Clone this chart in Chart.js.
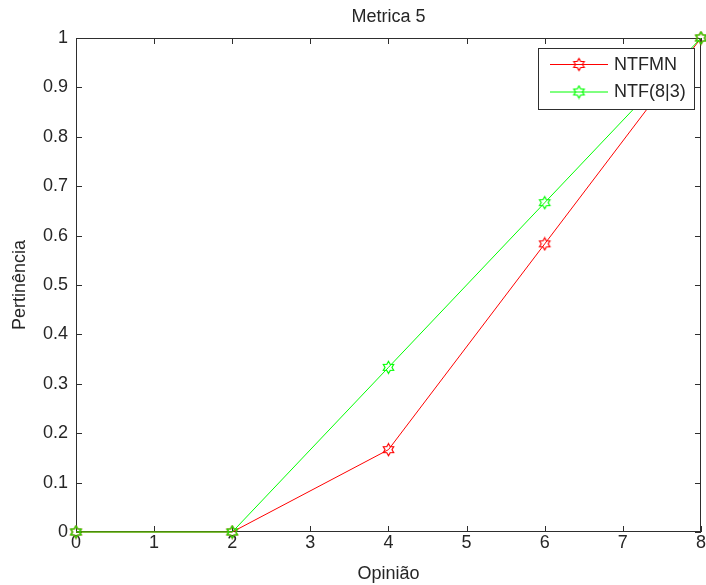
<!DOCTYPE html>
<html>
<head>
<meta charset="utf-8">
<script src="https://cdn.jsdelivr.net/npm/chart.js"></script>
<style>
  html, body { margin: 0; padding: 0; background: #fff; }
</style>
</head>
<body>
<canvas id="myChart" width="706" height="585"></canvas>
<script>
const opinion = [0, 2, 4, 6, 8];
const ntfmn = [0, 0, 0.1667, 0.5833, 1];
const ntf83 = [0, 0, 0.3333, 0.6667, 1];
const xTicks = [0, 1, 2, 3, 4, 5, 6, 7, 8];
const xTickLabels = ['0', '1', '2', '3', '4', '5', '6', '7', '8'];
const yTicks = [0, 0.1, 0.2, 0.3, 0.4, 0.5, 0.6, 0.7, 0.8, 0.9, 1];
const yTickLabels = ['0', '0.1', '0.2', '0.3', '0.4', '0.5', '0.6', '0.7', '0.8', '0.9', '1'];

const axisColor = '#2e2e2e';
const textColor = '#262626';
const font = { family: 'Liberation Sans, Arial, sans-serif', size: 18 };

// hexagram marker like matlab's 'h'
const makeStar = color => {
  const c = document.createElement('canvas');
  c.width = 15;
  c.height = 15;
  const g = c.getContext('2d');
  g.strokeStyle = color;
  g.lineWidth = 1.2;
  const r = 6, cx = 7.5, cy = 7.5;
  g.beginPath();
  for (let i = 0; i < 12; i++) {
    const a = -Math.PI / 2 + i * Math.PI / 6;
    const rr = i % 2 ? r / Math.sqrt(3) : r;
    const px = cx + rr * Math.cos(a), py = cy + rr * Math.sin(a);
    if (i === 0) g.moveTo(px, py); else g.lineTo(px, py);
  }
  g.closePath();
  g.stroke();
  return c;
};

const redStar = makeStar('#ff0000');
const greenStar = makeStar('#00ff00');

// box round the axes with inward ticks on all four sides
const boxAndTicks = {
  id: 'boxAndTicks',
  beforeDatasetsDraw(chart) {
    const { ctx, chartArea: a, scales } = chart;
    const len = 6;
    ctx.save();
    ctx.strokeStyle = axisColor;
    ctx.lineWidth = 1;
    ctx.strokeRect(Math.round(a.left) + 0.5, Math.round(a.top) + 0.5,
      Math.round(a.right - a.left) - 1, Math.round(a.bottom - a.top) - 1);
    ctx.beginPath();
    xTicks.forEach(v => {
      const x = Math.round(scales.x.getPixelForValue(v)) + 0.5;
      ctx.moveTo(x, a.bottom); ctx.lineTo(x, a.bottom - len);
      ctx.moveTo(x, a.top); ctx.lineTo(x, a.top + len);
    });
    yTicks.forEach(v => {
      const y = Math.round(scales.y.getPixelForValue(v)) + 0.5;
      ctx.moveTo(a.left, y); ctx.lineTo(a.left + len, y);
      ctx.moveTo(a.right, y); ctx.lineTo(a.right - len, y);
    });
    ctx.stroke();
    ctx.restore();
  }
};

// legend box in the top right corner
const cornerLegend = {
  id: 'cornerLegend',
  afterDraw(chart) {
    const { ctx } = chart;
    const x0 = 538, y0 = 48, w = 156, h = 61;
    ctx.save();
    ctx.fillStyle = '#fff';
    ctx.fillRect(x0, y0, w, h);
    ctx.strokeStyle = axisColor;
    ctx.lineWidth = 1;
    ctx.strokeRect(x0 + 0.5, y0 + 0.5, w, h);
    chart.data.datasets.forEach((ds, i) => {
      const y = y0 + 16 + i * 27.5;
      ctx.strokeStyle = ds.borderColor;
      ctx.beginPath();
      ctx.moveTo(x0 + 12, y + 0.5);
      ctx.lineTo(x0 + 70, y + 0.5);
      ctx.stroke();
      ctx.drawImage(ds.pointStyle, x0 + 41 - 7.5, y - 7);
      ctx.fillStyle = textColor;
      ctx.font = `${font.size}px ${font.family}`;
      ctx.textBaseline = 'middle';
      ctx.fillText(ds.label, x0 + 76, y + 1);
    });
    ctx.restore();
  }
};

const ctx = document.getElementById('myChart').getContext('2d');

const chart = new Chart(ctx, {
  type: 'line',
  data: {
    datasets: [
      {
        label: 'NTFMN',
        data: opinion.map((x, i) => ({ x, y: ntfmn[i] })),
        borderColor: '#ff0000',
        borderWidth: 1,
        pointStyle: redStar,
        order: 1
      },
      {
        label: 'NTF(8|3)',
        data: opinion.map((x, i) => ({ x, y: ntf83[i] })),
        borderColor: '#00ff00',
        borderWidth: 1,
        pointStyle: greenStar,
        order: 0
      }
    ]
  },
  options: {
    responsive: false,
    animation: false,
    clip: false,
    layout: { padding: { left: 0, right: 3, top: 0, bottom: 0 } },
    plugins: {
      legend: { display: false },
      tooltip: { enabled: false },
      title: {
        display: true,
        fullSize: false,
        text: 'Metrica 5',
        color: textColor,
        font: { ...font, weight: 'normal' },
        padding: { top: 6, bottom: 10.4 }
      }
    },
    scales: {
      x: {
        type: 'linear',
        min: 0,
        max: 8,
        afterBuildTicks: s => { s.ticks = xTicks.map(v => ({ value: v })); },
        afterFit: s => { s.height = 53; },
        grid: { display: false, drawTicks: false, tickLength: 0 },
        border: { display: false },
        ticks: {
          color: textColor,
          font,
          padding: 0,
          maxRotation: 0,
          callback: (v, i) => xTickLabels[i]
        },
        title: {
          display: true,
          text: 'Opinião',
          color: textColor,
          font,
          padding: { top: 3, bottom: 0 }
        }
      },
      y: {
        type: 'linear',
        min: 0,
        max: 1,
        afterBuildTicks: s => { s.ticks = yTicks.map(v => ({ value: v })); },
        afterFit: s => { s.width = 76; },
        grid: { display: false, drawTicks: false, tickLength: 0 },
        border: { display: false },
        ticks: {
          color: textColor,
          font,
          padding: 8,
          callback: (v, i) => yTickLabels[i]
        },
        title: {
          display: true,
          text: 'Pertinência',
          color: textColor,
          font,
          padding: { top: 9, bottom: 0 }
        }
      }
    }
  },
  plugins: [boxAndTicks, cornerLegend]
});
</script>
</body>
</html>
